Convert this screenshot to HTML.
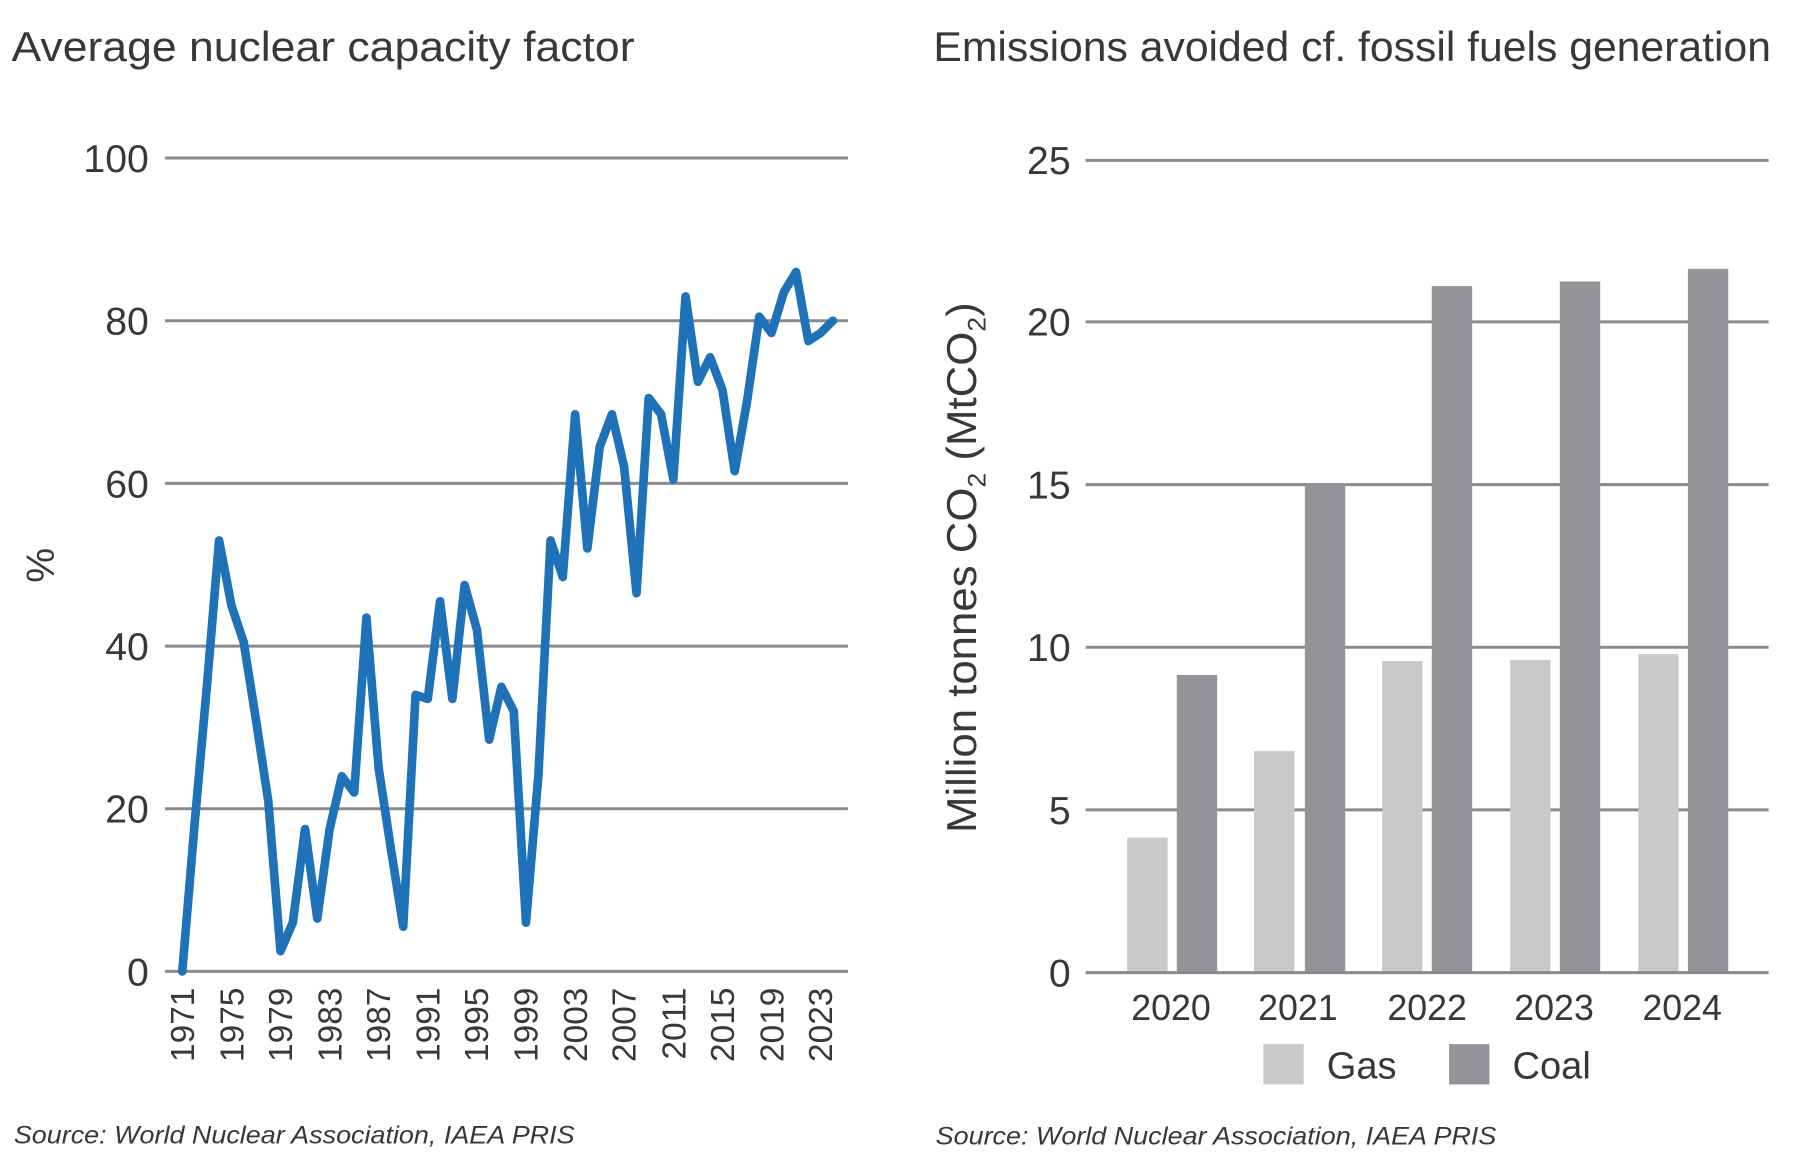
<!DOCTYPE html>
<html><head><meta charset="utf-8"><style>
html,body{margin:0;padding:0;background:#fff;}
svg{display:block;}
text{font-family:"Liberation Sans",sans-serif;fill:#383838;}
</style></head><body>
<svg width="1808" height="1172" viewBox="0 0 1553 1006.7" preserveAspectRatio="none" xmlns="http://www.w3.org/2000/svg">
<rect width="1553" height="1007" fill="#fff"/>
<g transform="scale(0.991)">
<!-- Left chart -->
<text x="10" y="53" font-size="36" textLength="540" lengthAdjust="spacingAndGlyphs">Average nuclear capacity factor</text>
<g stroke="#8a8a8c" stroke-width="2.6">
<line x1="143" y1="137" x2="735" y2="137"/>
<line x1="143" y1="278" x2="735" y2="278"/>
<line x1="143" y1="419" x2="735" y2="419"/>
<line x1="143" y1="560" x2="735" y2="560"/>
<line x1="143" y1="701" x2="735" y2="701"/>
<line x1="143" y1="842" x2="735" y2="842"/>
</g>
<g font-size="34" text-anchor="end">
<text x="129" y="149">100</text>
<text x="129" y="290">80</text>
<text x="129" y="431">60</text>
<text x="129" y="572">40</text>
<text x="129" y="713">20</text>
<text x="129" y="854">0</text>
</g>
<text transform="translate(47,490) rotate(-90)" font-size="34" text-anchor="middle">%</text>
<g font-size="29" text-anchor="end">
<text transform="translate(168,856) rotate(-90)">1971</text>
<text transform="translate(211,856) rotate(-90)">1975</text>
<text transform="translate(253,856) rotate(-90)">1979</text>
<text transform="translate(296,856) rotate(-90)">1983</text>
<text transform="translate(338,856) rotate(-90)">1987</text>
<text transform="translate(381,856) rotate(-90)">1991</text>
<text transform="translate(423,856) rotate(-90)">1995</text>
<text transform="translate(466,856) rotate(-90)">1999</text>
<text transform="translate(509,856) rotate(-90)">2003</text>
<text transform="translate(551,856) rotate(-90)">2007</text>
<text transform="translate(594,856) rotate(-90)">2011</text>
<text transform="translate(636,856) rotate(-90)">2015</text>
<text transform="translate(679,856) rotate(-90)">2019</text>
<text transform="translate(721,856) rotate(-90)">2023</text>
</g>
<polyline fill="none" stroke="#1f72b8" stroke-width="7.5" stroke-linejoin="round" stroke-linecap="round" points="158,842 168.6,715.1 179.3,595.3 189.9,468.4 200.6,524.8 211.2,556.5 221.8,623.5 232.5,694 243.1,824.4 253.8,799.7 264.4,718.6 275,796.2 285.7,718.6 296.3,672.8 307,686.9 317.6,535.3 328.2,665.8 338.9,736.3 349.5,803.2 360.2,602.3 370.8,605.8 381.4,521.2 392.1,605.8 402.7,507.1 413.4,545.9 424,641.1 434.6,595.3 445.3,616.4 455.9,799.7 466.6,672.8 477.2,468.4 487.8,500.1 498.5,359.1 509.1,475.4 519.8,387.3 530.4,359.1 541,404.9 551.7,514.2 562.3,345 573,359.1 583.6,415.5 594.2,256.9 604.9,330.9 615.5,309.7 626.2,337.9 636.8,408.4 647.4,348.5 658.1,274.5 668.7,288.6 679.4,253.3 690,235.7 700.6,295.6 711.3,288.6 721.9,278"/>
<text x="12" y="991" font-size="22" font-style="italic" textLength="486" lengthAdjust="spacingAndGlyphs">Source: World Nuclear Association, IAEA PRIS</text>

<!-- Right chart -->
<text x="809" y="53" font-size="36" textLength="726" lengthAdjust="spacingAndGlyphs">Emissions avoided cf. fossil fuels generation</text>
<g stroke="#8a8a8c" stroke-width="2.6">
<line x1="941" y1="139" x2="1533" y2="139"/>
<line x1="941" y1="279" x2="1533" y2="279"/>
<line x1="941" y1="420" x2="1533" y2="420"/>
<line x1="941" y1="561" x2="1533" y2="561"/>
<line x1="941" y1="702" x2="1533" y2="702"/>
</g>
<g fill="#c8c9cb">
<rect x="977" y="726" width="35" height="117"/>
<rect x="1087" y="651" width="35" height="192"/>
<rect x="1198" y="573" width="35" height="270"/>
<rect x="1309" y="572" width="35" height="271"/>
<rect x="1420" y="567" width="35" height="276"/>
<rect x="1095" y="905" width="35" height="35"/>
</g>
<g fill="#939497">
<rect x="1020" y="585" width="35" height="258"/>
<rect x="1131" y="420" width="35" height="423"/>
<rect x="1241" y="248" width="35" height="595"/>
<rect x="1352" y="244" width="35" height="599"/>
<rect x="1463" y="233" width="35" height="610"/>
<rect x="1256" y="905" width="35" height="35"/>
</g>
<line x1="941" y1="843" x2="1533" y2="843" stroke="#8a8a8c" stroke-width="2.6"/>
<g font-size="34" text-anchor="end">
<text x="928" y="151">25</text>
<text x="928" y="291">20</text>
<text x="928" y="432">15</text>
<text x="928" y="573">10</text>
<text x="928" y="714">5</text>
<text x="928" y="855">0</text>
</g>
<g font-size="31" text-anchor="middle">
<text x="1015" y="884">2020</text>
<text x="1125" y="884">2021</text>
<text x="1237" y="884">2022</text>
<text x="1347" y="884">2023</text>
<text x="1458" y="884">2024</text>
</g>
<text x="1150" y="935" font-size="33">Gas</text>
<text x="1311" y="935" font-size="33">Coal</text>
<text transform="translate(846,722) rotate(-90)" font-size="36" textLength="460" lengthAdjust="spacingAndGlyphs">Million tonnes CO<tspan font-size="22" dy="8">2</tspan><tspan dy="-8"> (MtCO</tspan><tspan font-size="22" dy="8">2</tspan><tspan dy="-8">)</tspan></text>
<text x="811" y="992" font-size="22" font-style="italic" textLength="486" lengthAdjust="spacingAndGlyphs">Source: World Nuclear Association, IAEA PRIS</text>
</g>
</svg>
</body></html>
